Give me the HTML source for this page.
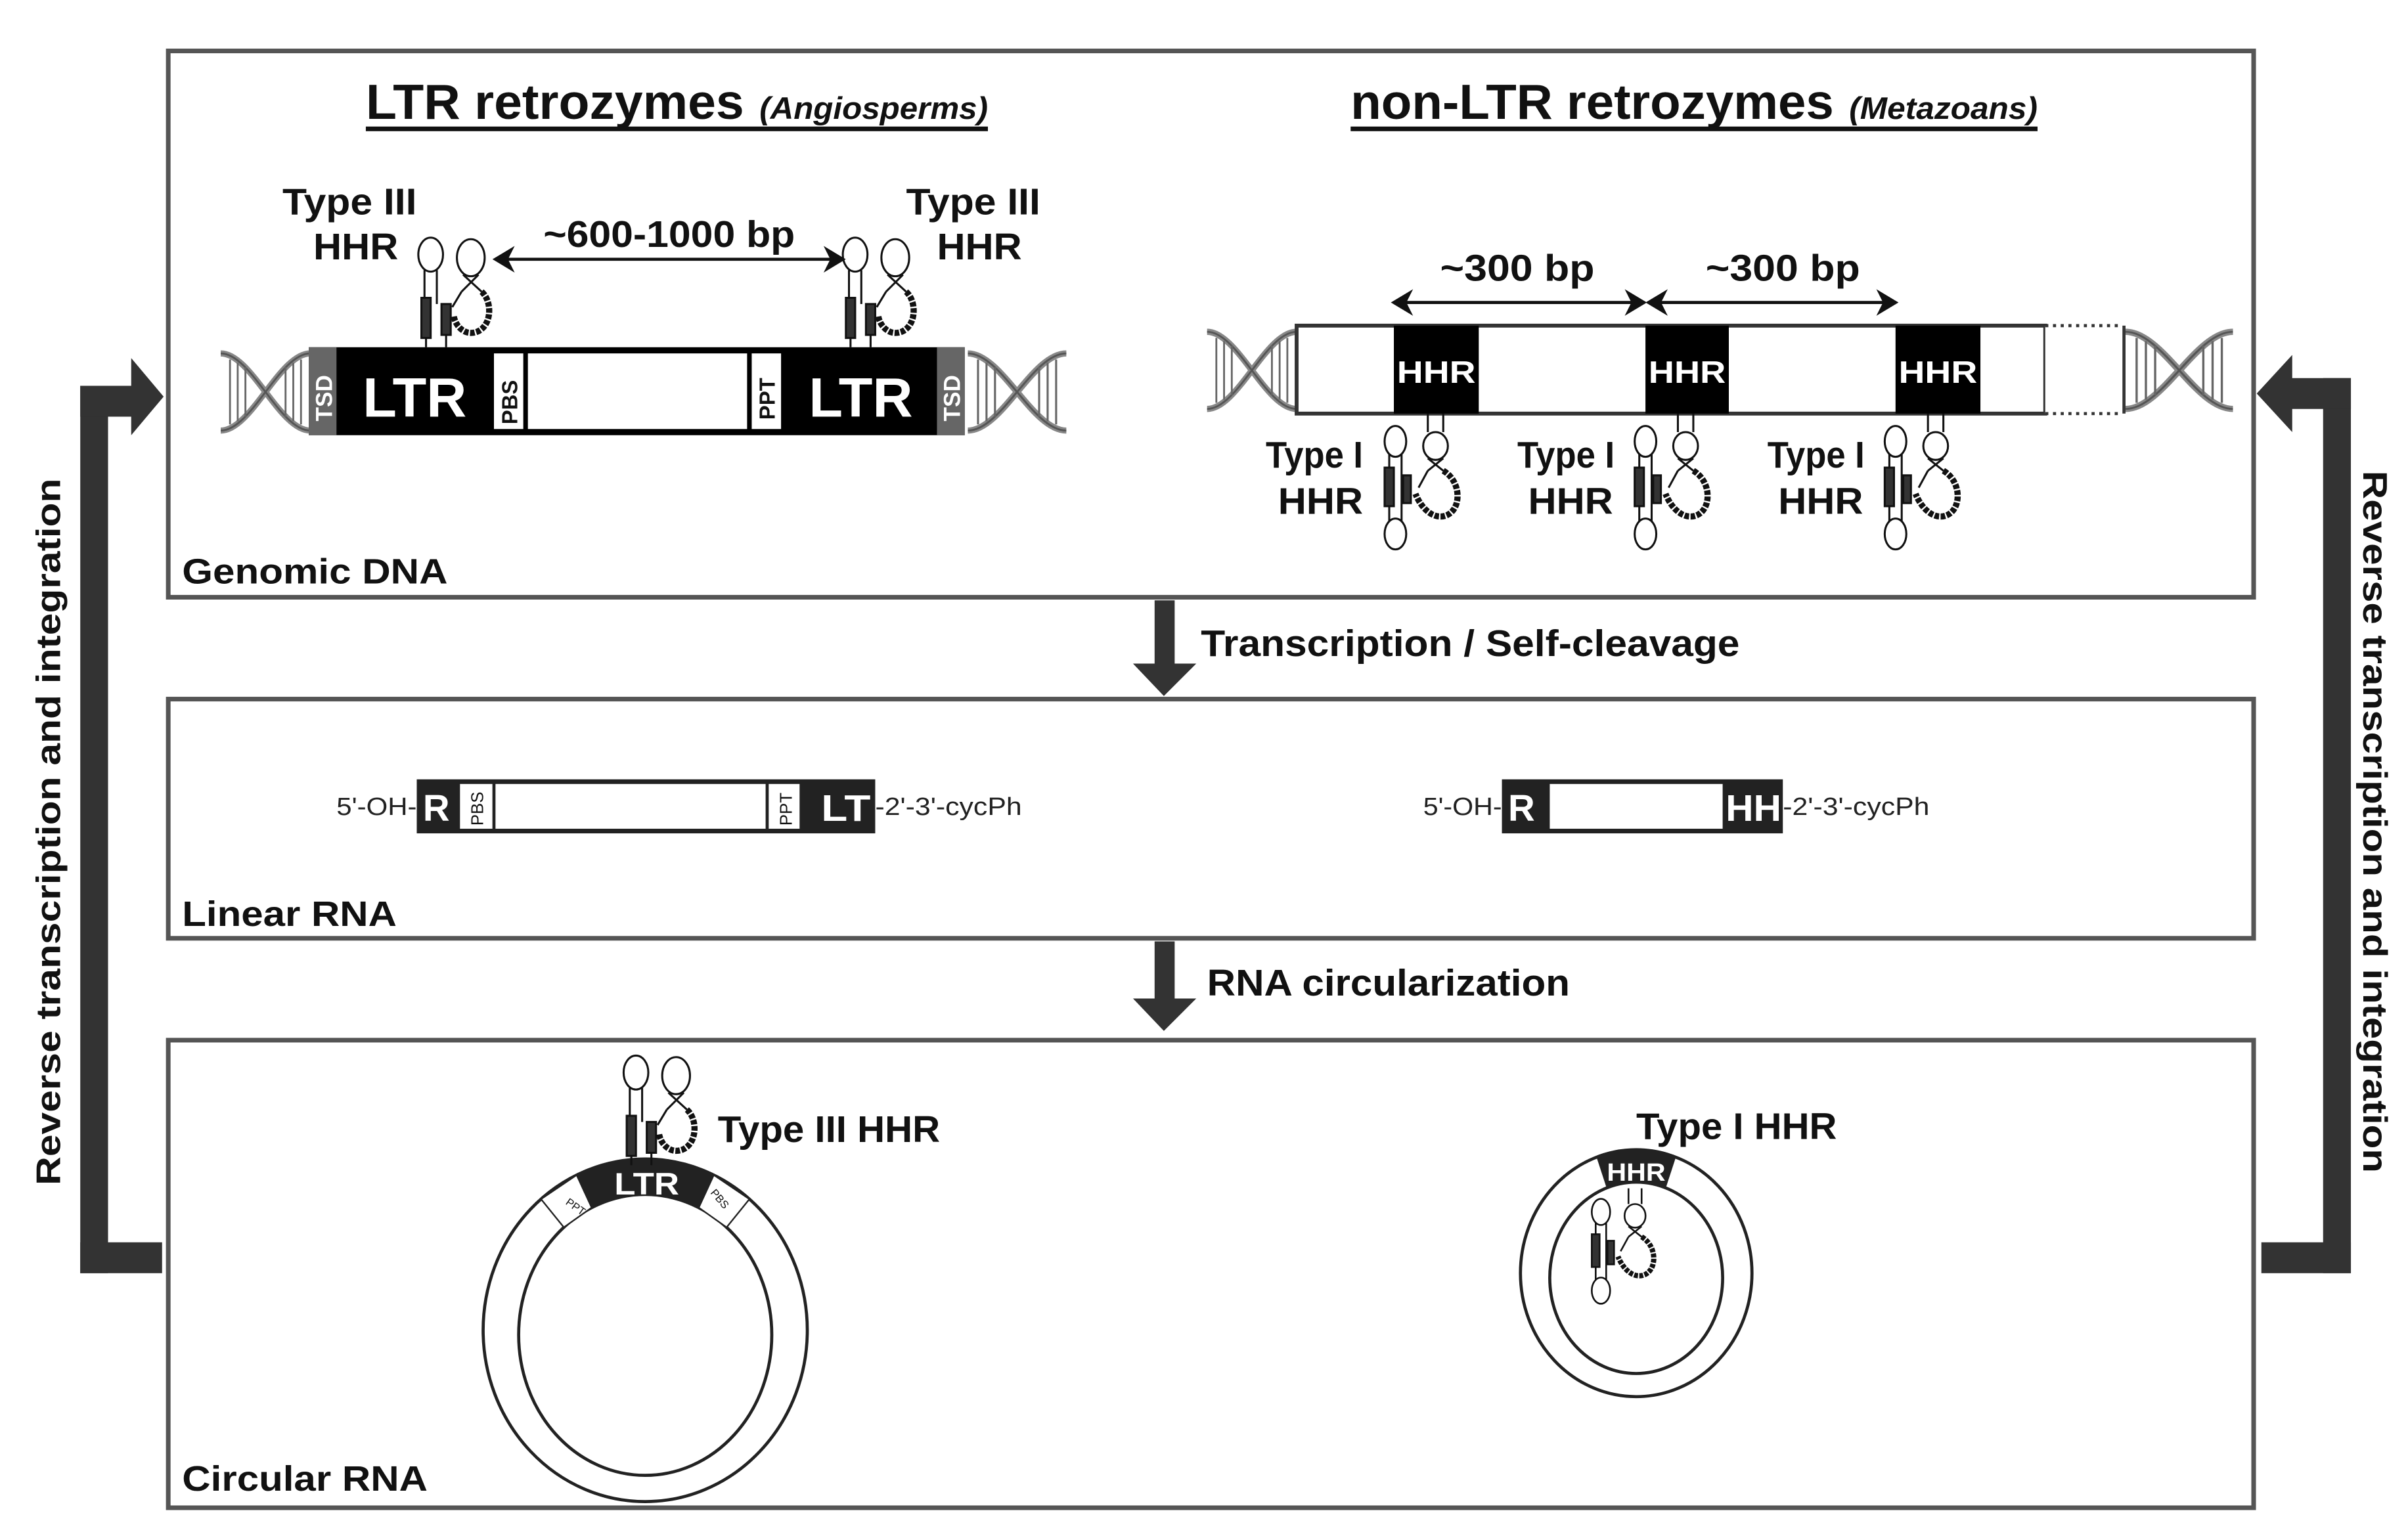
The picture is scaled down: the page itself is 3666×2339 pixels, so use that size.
<!DOCTYPE html>
<html><head><meta charset="utf-8"><style>html,body{margin:0;padding:0;background:#fff}svg{display:block}</style></head>
<body>
<svg width="3666" height="2339" viewBox="0 0 1560 995.3" preserveAspectRatio="none" xmlns="http://www.w3.org/2000/svg" font-family="Liberation Sans, Arial, sans-serif">
<defs>
<g id="h3" fill="none" stroke="#111" stroke-width="1.3">
  <ellipse cx="2" cy="-60" rx="8" ry="11" fill="#fff"/>
  <line x1="-2" y1="-50" x2="-2" y2="-30"/><line x1="6" y1="-50" x2="6" y2="-28"/>
  <rect x="-4" y="-32" width="6" height="26" fill="#333"/>
  <line x1="-1" y1="-6" x2="-1" y2="0"/>
  <rect x="9" y="-28" width="6" height="20" fill="#333"/>
  <line x1="12" y1="-8" x2="12" y2="0"/>
  <ellipse cx="28" cy="-58" rx="9" ry="12" fill="#fff"/>
  <line x1="23" y1="-47" x2="35" y2="-36"/><line x1="33" y1="-47" x2="22" y2="-36"/>
  <path d="M35 -36 C42 -30 42 -14 32 -10 C24 -7 18 -14 17 -20" stroke-width="4" stroke-dasharray="3 1"/>
  <path d="M22 -36 L16 -26"/>
</g>
<g id="h1" fill="none" stroke="#111" stroke-width="1.3">
  <ellipse cx="-21" cy="18" rx="7" ry="10" fill="#fff"/>
  <line x1="-25" y1="26" x2="-25" y2="70"/><line x1="-17" y1="26" x2="-17" y2="70"/>
  <rect x="-28" y="35" width="6" height="25" fill="#333"/>
  <rect x="-16" y="40" width="5" height="18" fill="#333"/>
  <ellipse cx="-21" cy="78" rx="7" ry="10" fill="#fff"/>
  <line x1="0" y1="0" x2="0" y2="12"/><line x1="10" y1="0" x2="10" y2="12"/>
  <ellipse cx="5" cy="21" rx="8" ry="9" fill="#fff"/>
  <line x1="0" y1="29" x2="10" y2="37"/><line x1="10" y1="29" x2="0" y2="37"/>
  <path d="M10 37 C22 44 22 62 12 66 C4 69 -4 62 -8 52" stroke-width="4" stroke-dasharray="3 1"/>
  <path d="M0 37 L-6 48"/>
</g>
<g id="helix" fill="none" stroke="#555" stroke-width="1.2">
  <path d="M0 4 C20 4 38 54 58 54" stroke-width="4" stroke="#888"/>
  <path d="M0 54 C20 54 38 4 58 4" stroke-width="4" stroke="#888"/>
  <path d="M0 4 C20 4 38 54 58 54"/><path d="M0 54 C20 54 38 4 58 4"/>
  <g stroke="#666"><line x1="6" y1="8" x2="6" y2="50"/><line x1="11" y1="10" x2="11" y2="48"/><line x1="16" y1="13" x2="16" y2="45"/><line x1="42" y1="13" x2="42" y2="45"/><line x1="47" y1="10" x2="47" y2="48"/><line x1="52" y1="8" x2="52" y2="50"/></g>
</g>
</defs>

<g fill="none" stroke="#555" stroke-width="3">
<rect x="109" y="33" width="1351" height="354"/>
<rect x="109" y="453" width="1351" height="155"/>
<rect x="109" y="674" width="1351" height="303"/>
</g>

<g fill="#333">
<rect x="748" y="389" width="13" height="44"/><polygon points="734,430 775,430 754,451"/>
<rect x="748" y="610" width="13" height="40"/><polygon points="734,647 775,647 754,668"/>
</g>
<g font-weight="bold" font-size="24" fill="#111">
<text x="778" y="425" textLength="349" lengthAdjust="spacingAndGlyphs">Transcription / Self-cleavage</text>
<text x="782" y="645" textLength="235" lengthAdjust="spacingAndGlyphs">RNA circularization</text>
</g>

<g fill="#333">
<rect x="52" y="250" width="18" height="575"/><rect x="52" y="250" width="36" height="20"/><rect x="52" y="805" width="53" height="20"/>
<polygon points="85,232 106,257 85,282"/>
<rect x="1505" y="245" width="18" height="580"/><rect x="1482" y="245" width="41" height="20"/><rect x="1465" y="805" width="58" height="20"/>
<polygon points="1485,230 1462,255 1485,280"/>
</g>
<g font-weight="bold" font-size="22" fill="#111">
<text transform="translate(39,768) rotate(-90)" textLength="458" lengthAdjust="spacingAndGlyphs">Reverse transcription and integration</text>
<text transform="translate(1531,305) rotate(90)" textLength="455" lengthAdjust="spacingAndGlyphs">Reverse transcription and integration</text>
</g>

<g fill="#111" font-weight="bold">
<text x="237" y="77" font-size="32" textLength="245" lengthAdjust="spacingAndGlyphs">LTR retrozymes</text>
<text x="492" y="77" font-size="20" font-style="italic" textLength="148" lengthAdjust="spacingAndGlyphs">(Angiosperms)</text>
<rect x="237" y="82" width="403" height="3"/>
<text x="875" y="77" font-size="32" textLength="313" lengthAdjust="spacingAndGlyphs">non-LTR retrozymes</text>
<text x="1198" y="77" font-size="20" font-style="italic" textLength="122" lengthAdjust="spacingAndGlyphs">(Metazoans)</text>
<rect x="875" y="82" width="445" height="3"/>
</g>

<use href="#helix" transform="translate(143,225)"/>
<use href="#helix" transform="translate(627,225) scale(1.1,1)"/>
<rect x="200" y="225" width="425" height="57" fill="#000"/>
<rect x="200" y="225" width="18" height="57" fill="#666"/>
<rect x="607" y="225" width="18" height="57" fill="#666"/>
<rect x="320" y="229" width="19" height="49" fill="#fff"/>
<rect x="342" y="229" width="142" height="49" fill="#fff"/>
<rect x="487" y="229" width="19" height="49" fill="#fff"/>
<g font-weight="bold" fill="#fff">
<text x="235" y="270" font-size="36">LTR</text>
<text x="524" y="270" font-size="36">LTR</text>
<text transform="translate(215,273) rotate(-90)" font-size="15">TSD</text>
<text transform="translate(622,273) rotate(-90)" font-size="15">TSD</text>
</g>
<g font-weight="bold" fill="#111" font-size="14">
<text transform="translate(335,275) rotate(-90)">PBS</text>
<text transform="translate(502,272) rotate(-90)">PPT</text>
</g>
<use href="#h3" transform="translate(277,225)"/>
<use href="#h3" transform="translate(552,225)"/>
<g fill="#111" font-weight="bold" font-size="24">
<text x="183" y="139" textLength="87" lengthAdjust="spacingAndGlyphs">Type III</text>
<text x="203" y="168" textLength="55" lengthAdjust="spacingAndGlyphs">HHR</text>
<text x="587" y="139" textLength="87" lengthAdjust="spacingAndGlyphs">Type III</text>
<text x="607" y="168" textLength="55" lengthAdjust="spacingAndGlyphs">HHR</text>
<text x="352" y="160" textLength="163" lengthAdjust="spacingAndGlyphs">~600-1000 bp</text>
</g>
<g stroke="#111" stroke-width="2" fill="#111">
<line x1="325" y1="168" x2="542" y2="168"/>
<polygon points="321,168 331,162 328,168 331,174"/><polygon points="546,168 536,162 539,168 536,174"/>
</g>

<use href="#helix" transform="translate(782,211)"/>
<use href="#helix" transform="translate(1377,211) scale(1.2,1)"/>
<rect x="840" y="211" width="485" height="57" fill="#fff" stroke="#333" stroke-width="2.5"/>
<rect x="1325" y="211" width="50" height="57" fill="#fff"/>
<line x1="1325" y1="211" x2="1375" y2="211" stroke="#333" stroke-width="2" stroke-dasharray="2 3"/>
<line x1="1325" y1="268" x2="1375" y2="268" stroke="#333" stroke-width="2" stroke-dasharray="2 3"/>
<line x1="1376" y1="211" x2="1376" y2="268" stroke="#333" stroke-width="2"/>
<g fill="#000"><rect x="903" y="211" width="55" height="57"/><rect x="1066" y="211" width="54" height="57"/><rect x="1228" y="211" width="55" height="57"/></g>
<g fill="#fff" font-weight="bold" font-size="20">
<text x="905" y="248" textLength="51" lengthAdjust="spacingAndGlyphs">HHR</text>
<text x="1068" y="248" textLength="50" lengthAdjust="spacingAndGlyphs">HHR</text>
<text x="1230" y="248" textLength="51" lengthAdjust="spacingAndGlyphs">HHR</text>
</g>
<g stroke="#111" stroke-width="2" fill="#111">
<line x1="906" y1="196" x2="1062" y2="196"/>
<polygon points="903,196 913,190 910,196 913,202"/><polygon points="1065,196 1055,190 1058,196 1055,202"/>
<line x1="1071" y1="196" x2="1225" y2="196"/>
<polygon points="1068,196 1078,190 1075,196 1078,202"/><polygon points="1228,196 1218,190 1221,196 1218,202"/>
</g>
<g fill="#111" font-weight="bold" font-size="24">
<text x="933" y="182" textLength="100" lengthAdjust="spacingAndGlyphs">~300 bp</text>
<text x="1105" y="182" textLength="100" lengthAdjust="spacingAndGlyphs">~300 bp</text>
<text x="820" y="303" textLength="63" lengthAdjust="spacingAndGlyphs">Type I</text>
<text x="828" y="333" textLength="55" lengthAdjust="spacingAndGlyphs">HHR</text>
<text x="983" y="303" textLength="63" lengthAdjust="spacingAndGlyphs">Type I</text>
<text x="990" y="333" textLength="55" lengthAdjust="spacingAndGlyphs">HHR</text>
<text x="1145" y="303" textLength="63" lengthAdjust="spacingAndGlyphs">Type I</text>
<text x="1152" y="333" textLength="55" lengthAdjust="spacingAndGlyphs">HHR</text>
</g>
<use href="#h1" transform="translate(925,268)"/>
<use href="#h1" transform="translate(1087,268)"/>
<use href="#h1" transform="translate(1249,268)"/>
<g fill="#111" font-weight="bold" font-size="23">
<text x="118" y="378" textLength="172" lengthAdjust="spacingAndGlyphs">Genomic DNA</text>
<text x="118" y="600" textLength="139" lengthAdjust="spacingAndGlyphs">Linear RNA</text>
<text x="118" y="966" textLength="159" lengthAdjust="spacingAndGlyphs">Circular RNA</text>
</g>

<rect x="270" y="505" width="297" height="35" fill="#222"/>
<rect x="298" y="508" width="21" height="29" fill="#fff"/>
<rect x="321" y="508" width="175" height="29" fill="#fff"/>
<rect x="498" y="508" width="20" height="29" fill="#fff"/>
<rect x="973" y="505" width="182" height="35" fill="#222"/>
<rect x="1004" y="508" width="112" height="29" fill="#fff"/>
<g fill="#fff" font-weight="bold" font-size="24">
<text x="274" y="532">R</text><text x="532" y="532" textLength="32" lengthAdjust="spacingAndGlyphs">LT</text>
<text x="977" y="532">R</text><text x="1118" y="532" textLength="36" lengthAdjust="spacingAndGlyphs">HH</text>
</g>
<g font-size="11" fill="#111"><text transform="translate(313,535) rotate(-90)">PBS</text><text transform="translate(513,535) rotate(-90)">PPT</text></g>
<g fill="#222" font-size="16">
<text x="218" y="528" textLength="52" lengthAdjust="spacingAndGlyphs">5'-OH-</text>
<text x="567" y="528" textLength="95" lengthAdjust="spacingAndGlyphs">-2'-3'-cycPh</text>
<text x="922" y="528" textLength="51" lengthAdjust="spacingAndGlyphs">5'-OH-</text>
<text x="1155" y="528" textLength="95" lengthAdjust="spacingAndGlyphs">-2'-3'-cycPh</text>
</g>

<ellipse cx="418" cy="862" rx="105" ry="111" fill="#fff" stroke="#222" stroke-width="2"/>
<ellipse cx="418" cy="865" rx="82" ry="91" fill="#fff" stroke="#222" stroke-width="2"/>
<path d="M373.6 761.4 A105 111 0 0 1 462.4 761.4 L452.7 782.5 A82 91 0 0 0 383.3 782.5 Z" fill="#222"/>
<path d="M350.5 777 L373.6 761.4 L383.3 782.5 L365.3 795.3 Z" fill="#fff" stroke="#222"/>
<path d="M462.4 761.4 L485.5 777 L470.7 795.3 L452.7 782.5 Z" fill="#fff" stroke="#222"/>
<text x="398" y="774" fill="#fff" font-weight="bold" font-size="20" textLength="42" lengthAdjust="spacingAndGlyphs">LTR</text>
<g font-size="7" fill="#111"><text transform="translate(366,780) rotate(35)">PPT</text><text transform="translate(460,773) rotate(50)">PBS</text></g>
<use href="#h3" transform="translate(410,755)"/>
<text x="465" y="740" fill="#111" font-weight="bold" font-size="24" textLength="144" lengthAdjust="spacingAndGlyphs">Type III HHR</text>

<ellipse cx="1060" cy="825" rx="75" ry="80" fill="#fff" stroke="#222" stroke-width="2"/>
<ellipse cx="1060" cy="828" rx="56" ry="62" fill="#fff" stroke="#222" stroke-width="2"/>
<path d="M1034.3 749.8 A75 80 0 0 1 1085.7 749.8 L1079.2 769.7 A56 62 0 0 0 1040.8 769.7 Z" fill="#222"/>
<text x="1041" y="765" fill="#fff" font-weight="bold" font-size="16" textLength="38" lengthAdjust="spacingAndGlyphs">HHR</text>
<use href="#h1" transform="translate(1055,770) scale(0.85)"/>
<text x="1060" y="738" fill="#111" font-weight="bold" font-size="24" textLength="130" lengthAdjust="spacingAndGlyphs">Type I HHR</text>
</svg>
</body></html>
